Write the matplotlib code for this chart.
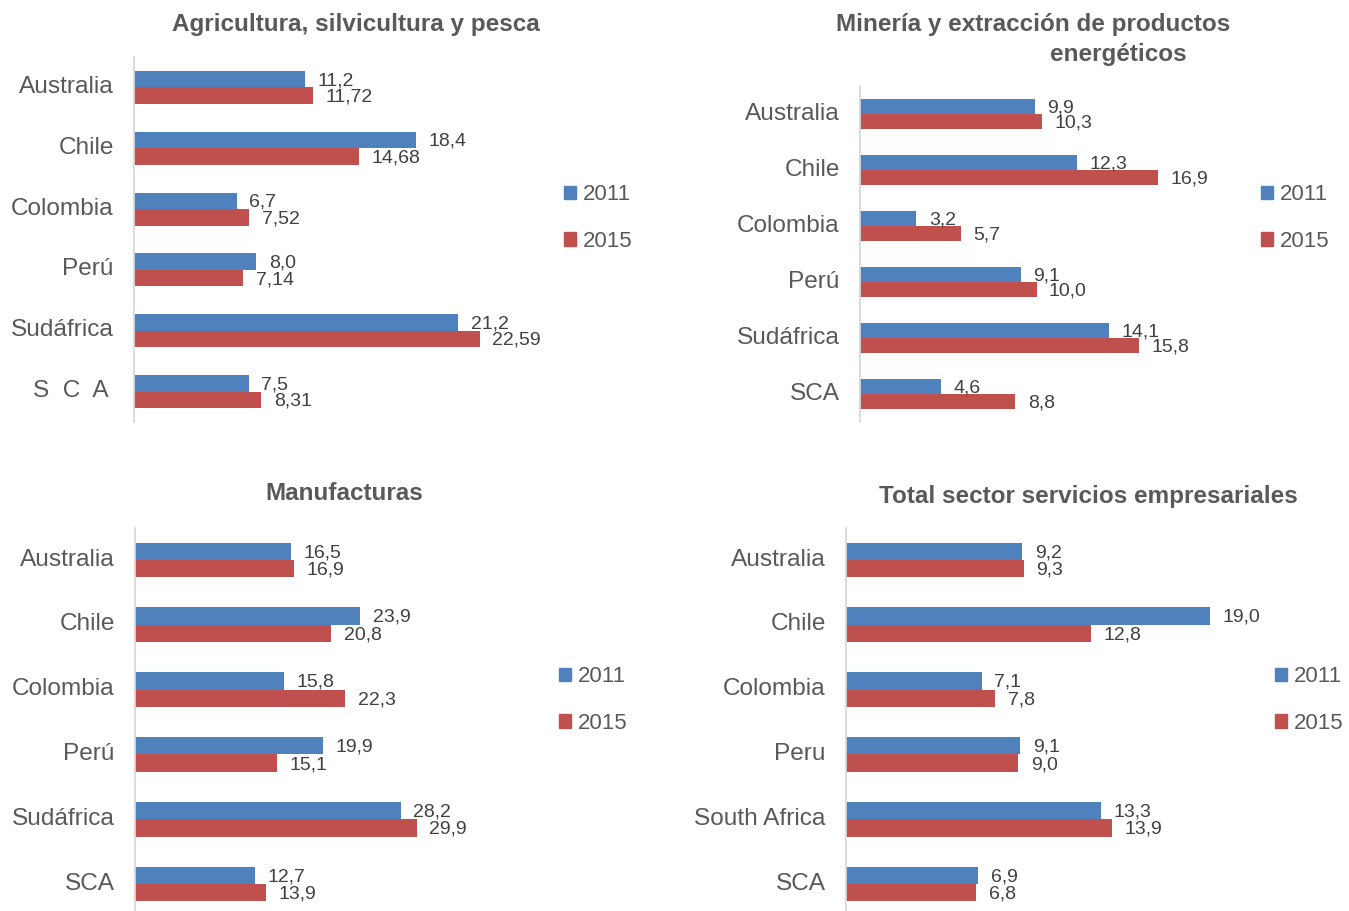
import numpy as np
import matplotlib.pyplot as plt
from matplotlib.patches import Rectangle
from matplotlib.transforms import ScaledTranslation

plt.rcParams['font.family'] = ['Liberation Sans', 'DejaVu Sans']

# Participación por sector (%)
paises = ['Australia', 'Chile', 'Colombia', 'Perú', 'Sudáfrica', 'SCA']
paises_agro = ['Australia', 'Chile', 'Colombia', 'Perú', 'Sudáfrica', 'S  C  A ']
paises_serv = ['Australia', 'Chile', 'Colombia', 'Peru', 'South Africa', 'SCA']

agro_2011 = [11.2, 18.4, 6.7, 8.0, 21.2, 7.5]
agro_2015 = [11.72, 14.68, 7.52, 7.14, 22.59, 8.31]
agro_fmt = ['{:.1f}', '{:.2f}']

mineria_2011 = [9.9, 12.3, 3.2, 9.1, 14.1, 4.6]
mineria_2015 = [10.3, 16.9, 5.7, 10.0, 15.8, 8.8]

manuf_2011 = [16.5, 23.9, 15.8, 19.9, 28.2, 12.7]
manuf_2015 = [16.9, 20.8, 22.3, 15.1, 29.9, 13.9]

serv_2011 = [9.2, 19.0, 7.1, 9.1, 13.3, 6.9]
serv_2015 = [9.3, 12.8, 7.8, 9.0, 13.9, 6.8]

anios = ['2011', '2015']

AZUL = '#4F81BD'
ROJO = '#C0504D'
GRIS = '#595959'

W, H = 1349, 911
fig = plt.figure(figsize=(W / 100, H / 100), dpi=100)


def ejes(left, top, right, bottom):
    return fig.add_axes([left / W, 1 - bottom / H, (right - left) / W, (bottom - top) / H])


def panel(ax, etiquetas, v2011, v2015, xmax, fmts, leg_x, leg_y):
    y = np.arange(len(etiquetas))
    h = 0.27
    b1 = ax.barh(y - h / 2, v2011, height=h, color=AZUL, label=anios[0])
    b2 = ax.barh(y + h / 2, v2015, height=h, color=ROJO, label=anios[1])
    for barras, vals, fmt in [(b1, v2011, fmts[0]), (b2, v2015, fmts[1])]:
        for rect, v in zip(barras, vals):
            ax.annotate(fmt.format(v).replace('.', ','),
                        (rect.get_width(), rect.get_y() + rect.get_height() / 2),
                        xytext=(9, -1), textcoords='offset points',
                        va='center', ha='left', fontsize=14, color='#404040')
    ax.set_xlim(0, xmax)
    ax.set_ylim(len(etiquetas) - 0.5, -0.5)
    ax.set_yticks(y)
    ax.set_yticklabels(etiquetas, fontsize=17.6, color=GRIS)
    ax.tick_params(axis='y', length=0, pad=14.5)
    # subir un poco los nombres de los países
    for lab in ax.get_yticklabels():
        lab.set_transform(lab.get_transform() + ScaledTranslation(0, 3 / 100, fig.dpi_scale_trans))
    ax.set_xticks([])
    for s in ['top', 'right', 'bottom']:
        ax.spines[s].set_visible(False)
    ax.spines['left'].set_color('#D9D9D9')
    ax.spines['left'].set_linewidth(1.3)
    ax.patch.set_alpha(0)
    handles = [Rectangle((0, 0), 1, 1, color=AZUL), Rectangle((0, 0), 1, 1, color=ROJO)]
    ax.legend(handles, anios, loc='center left',
              bbox_to_anchor=(leg_x / W, 1 - leg_y / H), bbox_transform=fig.transFigure,
              frameon=False, fontsize=16, labelcolor=GRIS, handlelength=0.55,
              handleheight=0.55, handletextpad=0.3, labelspacing=1.15,
              borderpad=0, borderaxespad=0)


ax1 = ejes(134, 57, 540, 422)
panel(ax1, paises_agro, agro_2011, agro_2015, 406 / 15.3, agro_fmt, 564, 218)

ax2 = ejes(860, 86, 1240, 422)
panel(ax2, paises, mineria_2011, mineria_2015, 380 / 17.65, ['{:.1f}', '{:.1f}'], 1261, 218)

ax3 = ejes(135, 527.6, 540, 916.4)
panel(ax3, paises, manuf_2011, manuf_2015, 405 / 9.43, ['{:.1f}', '{:.1f}'], 559, 700)

ax4 = ejes(846, 527.6, 1260, 916.4)
panel(ax4, paises_serv, serv_2011, serv_2015, 414 / 19.15, ['{:.1f}', '{:.1f}'], 1275, 700)

# Títulos
titulo = dict(fontsize=17.5, fontweight='bold', color=GRIS, ha='center', va='center')
fig.text(356 / W, 1 - 25 / H, 'Agricultura, silvicultura y pesca', **titulo)
fig.text(1033 / W, 1 - 24 / H, 'Minería y extracción de productos', **titulo)
fig.text(1118 / W, 1 - 55 / H, 'energéticos', **titulo)
fig.text(344 / W, 1 - 494 / H, 'Manufacturas', **titulo)
fig.text(1088 / W, 1 - 497 / H, 'Total sector servicios empresariales', **titulo)

fig.savefig('out.png', dpi=100, facecolor='white')
